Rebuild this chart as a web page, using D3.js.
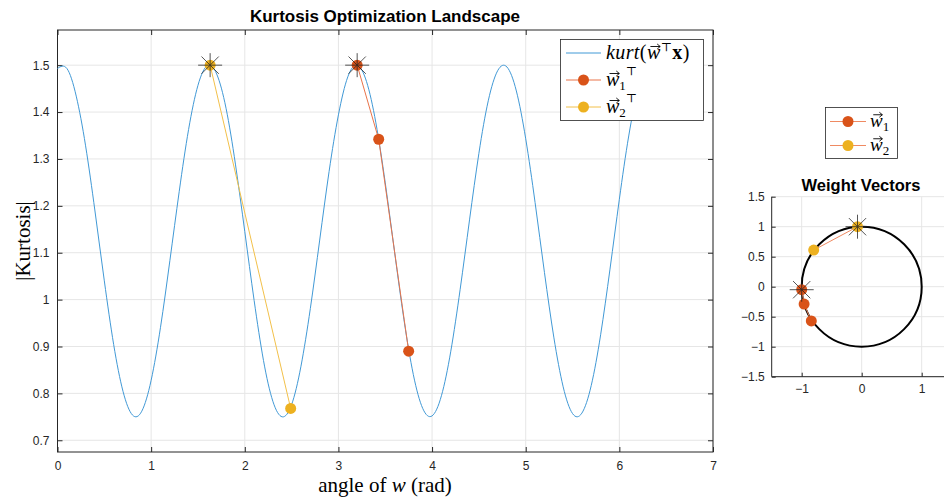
<!DOCTYPE html>
<html>
<head>
<meta charset="utf-8">
<script src="https://cdn.jsdelivr.net/npm/d3@7"></script>
<style>
body { margin: 0; background: #fff; }
svg { display: block; }
.tick text { font-family: "Liberation Sans", Arial, sans-serif; font-size: 12px; fill: #262626; }
.tex { font-family: "Liberation Serif", "DejaVu Serif", serif; fill: #000; }
</style>
</head>
<body>
<div id="chart-area"></div>
<script>
// kurtosis landscape
var angles = [0,0.1,0.2,0.3,0.4,0.5,0.6,0.7,0.8,0.9,1.0,1.1,1.2,1.3,1.4,1.5,1.6,1.7,1.8,1.9,
  2.0,2.1,2.2,2.3,2.4,2.5,2.6,2.7,2.8,2.9,3.0,3.1,3.2,3.3,3.4,3.5,3.6,3.7,3.8,3.9,
  4.0,4.1,4.2,4.3,4.4,4.5,4.6,4.7,4.8,4.9,5.0,5.1,5.2,5.3,5.4,5.5,5.6,5.7,5.8,5.9,
  6.0,6.1,6.2,6.28];
var kurt = [1.493,1.493,1.434,1.328,1.189,1.040,0.904,0.804,0.754,0.762,0.828,0.941,1.083,1.231,1.363,1.457,1.499,1.481,1.408,1.289,
  1.145,0.998,0.870,0.783,0.750,0.776,0.858,0.981,1.127,1.273,1.394,1.475,1.500,1.465,1.377,1.249,1.101,0.957,0.840,0.768,
  0.752,0.795,0.890,1.022,1.170,1.312,1.424,1.488,1.496,1.445,1.343,1.207,1.058,0.920,0.814,0.757,0.758,0.817,0.925,1.065,
  1.214,1.349,1.448,1.491];

// optimisation steps
var w1Angle = [3.20, 3.43, 3.75];
var w1Kurt = [1.50, 1.342, 0.89];
var w2Angle = [1.63, 2.49];
var w2Kurt = [1.50, 0.768];

// weight vectors (x, y) on the unit circle
var w1X = [-1.0, -0.96, -0.84];
var w1Y = [-0.05, -0.29, -0.57];
var w2X = [-0.07, -0.80];
var w2Y = [1.0, 0.61];

var xTicks = [0,1,2,3,4,5,6,7];
var yTicks = [0.7,0.8,0.9,1,1.1,1.2,1.3,1.4,1.5];
var wTicks = [-1.5,-1,-0.5,0,0.5,1,1.5];

var blue = "#4199d6", orange = "#D95319", yellow = "#EDB120";

var svg = d3.select("#chart-area").append("svg")
  .attr("width", 944).attr("height", 497);

// ---------- main axes ----------
var x = d3.scaleLinear().domain([0,7]).range([57.5,713]);
var y = d3.scaleLinear().domain([0.675,1.575]).range([452,30]);

var g = svg.append("g");

// grid
g.selectAll(".gx").data(xTicks).enter().append("line")
  .attr("x1", d => x(d)).attr("x2", d => x(d)).attr("y1", 30).attr("y2", 452)
  .attr("stroke", "#e6e6e6").attr("stroke-width", 1);
g.selectAll(".gy").data(yTicks).enter().append("line")
  .attr("y1", d => y(d)).attr("y2", d => y(d)).attr("x1", 57.5).attr("x2", 713)
  .attr("stroke", "#e6e6e6").attr("stroke-width", 1);

function styleAxis(sel) {
  sel.select(".domain").attr("stroke", "#262626");
  sel.selectAll(".tick line").attr("stroke", "#262626");
}

var xAxisCall = d3.axisBottom(x).tickValues(xTicks).tickSize(-5).tickPadding(9).tickFormat(d3.format("d"));
g.append("g").attr("transform", "translate(0,452)").call(xAxisCall).call(styleAxis);
g.append("g").attr("transform", "translate(0,30)")
  .call(d3.axisTop(x).tickValues(xTicks).tickSize(-5).tickFormat(""))
  .call(styleAxis);

var yAxisCall = d3.axisLeft(y).tickValues(yTicks).tickSize(-5).tickPadding(8).tickFormat(d => d3.format("")(d));
g.append("g").attr("transform", "translate(57.5,0)").call(yAxisCall).call(styleAxis);
g.append("g").attr("transform", "translate(713,0)")
  .call(d3.axisRight(y).tickValues(yTicks).tickSize(-5).tickFormat(""))
  .call(styleAxis);
g.selectAll(".domain").attr("d", null);
g.append("rect").attr("x", 57.5).attr("y", 30).attr("width", 713 - 57.5).attr("height", 422)
  .attr("fill", "none").attr("stroke", "#262626").attr("stroke-width", 1);

// curve
var curve = angles.map((a, i) => [a, kurt[i]]);
var line = d3.line().x(d => x(d[0])).y(d => y(d[1])).curve(d3.curveNatural);
g.append("path").datum(curve).attr("d", line)
  .attr("fill", "none").attr("stroke", blue).attr("stroke-width", 1);

function star(sel, cx, cy, r) {
  var d = r * 0.72;
  var s = sel.append("g").attr("stroke", "#222").attr("stroke-width", 0.9).attr("opacity", 0.85);
  s.append("line").attr("x1", cx - r).attr("x2", cx + r).attr("y1", cy).attr("y2", cy);
  s.append("line").attr("x1", cx).attr("x2", cx).attr("y1", cy - r).attr("y2", cy + r);
  s.append("line").attr("x1", cx - d).attr("x2", cx + d).attr("y1", cy - d).attr("y2", cy + d);
  s.append("line").attr("x1", cx - d).attr("x2", cx + d).attr("y1", cy + d).attr("y2", cy - d);
}

function steps(sel, xs, ys, sx, sy, lineColor, dotColor) {
  var pts = xs.map((v, i) => [v, ys[i]]);
  sel.append("path").datum(pts)
    .attr("d", d3.line().x(d => sx(d[0])).y(d => sy(d[1])))
    .attr("fill", "none").attr("stroke", lineColor).attr("stroke-width", 1);
  sel.selectAll(null).data(pts).enter().append("circle")
    .attr("cx", d => sx(d[0])).attr("cy", d => sy(d[1])).attr("r", 5.5)
    .attr("fill", dotColor);
  star(sel, sx(pts[0][0]), sy(pts[0][1]), 12);
}

steps(g, w2Angle, w2Kurt, x, y, "#f2c04a", yellow);
steps(g, w1Angle, w1Kurt, x, y, "#e9744a", orange);

// draws a little vector arrow over every tspan.vec
function vecArrows(parent) {
  parent.selectAll("tspan.vec").each(function() {
    var b = this.getBBox();
    var top = b.y + b.height * 0.25;
    var x0 = b.x + b.width * 0.25, x1 = b.x + b.width * 0.95;
    parent.append("path")
      .attr("d", "M" + x0 + "," + top + "H" + x1 + "M" + (x1 - 3) + "," + (top - 2.5) + "L" + x1 + "," + top + "L" + (x1 - 3) + "," + (top + 2.5))
      .attr("fill", "none").attr("stroke", "#000").attr("stroke-width", 0.9);
  });
}

// title and labels
svg.append("text").attr("x", 385).attr("y", 22).attr("text-anchor", "middle")
  .attr("font-family", "Liberation Sans, Arial, sans-serif").attr("font-weight", "bold")
  .attr("font-size", "17px").attr("fill", "#000").text("Kurtosis Optimization Landscape");

var xl = svg.append("text").attr("class", "tex").attr("x", 385).attr("y", 492)
  .attr("text-anchor", "middle").attr("font-size", "21px");
xl.append("tspan").text("angle of ");
xl.append("tspan").attr("font-style", "italic").text("w");
xl.append("tspan").text(" (rad)");

svg.append("text").attr("class", "tex").attr("transform", "translate(30,241) rotate(-90)")
  .attr("text-anchor", "middle").attr("font-size", "21px").text("|Kurtosis|");

// main legend
var leg = svg.append("g");
leg.append("rect").attr("x", 560.5).attr("y", 39.5).attr("width", 143).attr("height", 81)
  .attr("fill", "#fff").attr("stroke", "#262626").attr("stroke-width", 0.8);
var legRows = [
  {c: blue, dot: null},
  {c: "#e9744a", dot: orange},
  {c: "#f2c04a", dot: yellow}
];
legRows.forEach((r, i) => {
  var ry = 53 + i * 27;
  leg.append("line").attr("x1", 566).attr("x2", 601).attr("y1", ry).attr("y2", ry)
    .attr("stroke", r.c).attr("stroke-width", 1);
  if (r.dot) leg.append("circle").attr("cx", 583.5).attr("cy", ry).attr("r", 5.5).attr("fill", r.dot);
});
var t0 = leg.append("text").attr("class", "tex").attr("x", 606).attr("y", 59).attr("font-size", "20px")
  .attr("letter-spacing", "0.4px");
t0.append("tspan").attr("font-style", "italic").text("kurt");
t0.append("tspan").text("(");
t0.append("tspan").attr("class", "vec").attr("font-style", "italic").text("w");
t0.append("tspan").attr("font-size", "12px").attr("dy", -8).text("\u22A4");
t0.append("tspan").attr("font-weight", "bold").attr("dy", 8).text("x");
t0.append("tspan").text(")");
["1", "2"].forEach((s, i) => {
  var t = leg.append("text").attr("class", "tex").attr("x", 606).attr("y", 86 + i * 27).attr("font-size", "20px");
  t.append("tspan").attr("class", "vec").attr("font-style", "italic").text("w");
  t.append("tspan").attr("font-size", "13px").attr("dy", 4).text(s);
  t.append("tspan").attr("font-size", "12px").attr("dy", -15).text("\u22A4");
});
vecArrows(leg);

// ---------- weight vectors axes ----------
var wx = d3.scaleLinear().domain([-1.5,1.5]).range([771.7,951.7]);
var wy = d3.scaleLinear().domain([-1.5,1.5]).range([376.7,196.7]);
var g2 = svg.append("g");

g2.selectAll(".gx").data(wTicks.filter(d => d % 1 === 0)).enter().append("line")
  .attr("x1", d => wx(d)).attr("x2", d => wx(d)).attr("y1", 196.7).attr("y2", 376.7)
  .attr("stroke", "#e6e6e6");
g2.selectAll(".gy").data(wTicks).enter().append("line")
  .attr("y1", d => wy(d)).attr("y2", d => wy(d)).attr("x1", 771.7).attr("x2", 951.7)
  .attr("stroke", "#e6e6e6");

g2.append("g").attr("transform", "translate(0,376.7)")
  .call(d3.axisBottom(wx).tickValues([-1,0,1]).tickSize(-4).tickPadding(8).tickFormat(d3.format("d")))
  .call(styleAxis);
g2.append("g").attr("transform", "translate(771.7,0)")
  .call(d3.axisLeft(wy).tickValues(wTicks).tickSize(-4).tickPadding(7).tickFormat(d => d3.format("")(d)))
  .call(styleAxis);
g2.selectAll(".domain").attr("d", null);
g2.append("line").attr("x1", 771.7).attr("x2", 771.7).attr("y1", 196.7).attr("y2", 376.7).attr("stroke", "#262626");
g2.append("line").attr("x1", 771.7).attr("x2", 951.7).attr("y1", 376.7).attr("y2", 376.7).attr("stroke", "#262626");

g2.append("circle").attr("cx", wx(0)).attr("cy", wy(0)).attr("r", wx(1) - wx(0))
  .attr("fill", "none").attr("stroke", "#000").attr("stroke-width", 2);

steps(g2, w2X, w2Y, wx, wy, "#ef8a62", yellow);
steps(g2, w1X, w1Y, wx, wy, "#ef8a62", orange);

svg.append("text").attr("x", 861).attr("y", 191).attr("text-anchor", "middle")
  .attr("font-family", "Liberation Sans, Arial, sans-serif").attr("font-weight", "bold")
  .attr("font-size", "16.5px").attr("fill", "#000").text("Weight Vectors");

// small legend
var leg2 = svg.append("g");
leg2.append("rect").attr("x", 825.5).attr("y", 107.5).attr("width", 72).attr("height", 51)
  .attr("fill", "#fff").attr("stroke", "#262626").attr("stroke-width", 0.8);
[orange, yellow].forEach((c, i) => {
  var ry = 121.5 + i * 24;
  leg2.append("line").attr("x1", 830).attr("x2", 866).attr("y1", ry).attr("y2", ry)
    .attr("stroke", "#ef8a62").attr("stroke-width", 1);
  leg2.append("circle").attr("cx", 848).attr("cy", ry).attr("r", 5.5).attr("fill", c);
  var t = leg2.append("text").attr("class", "tex").attr("x", 870).attr("y", ry + 5).attr("font-size", "19px");
  t.append("tspan").attr("class", "vec").attr("font-style", "italic").text("w");
  t.append("tspan").attr("font-size", "13px").attr("dy", 4).text(String(i + 1));
});
vecArrows(leg2);
</script>
</body>
</html>
